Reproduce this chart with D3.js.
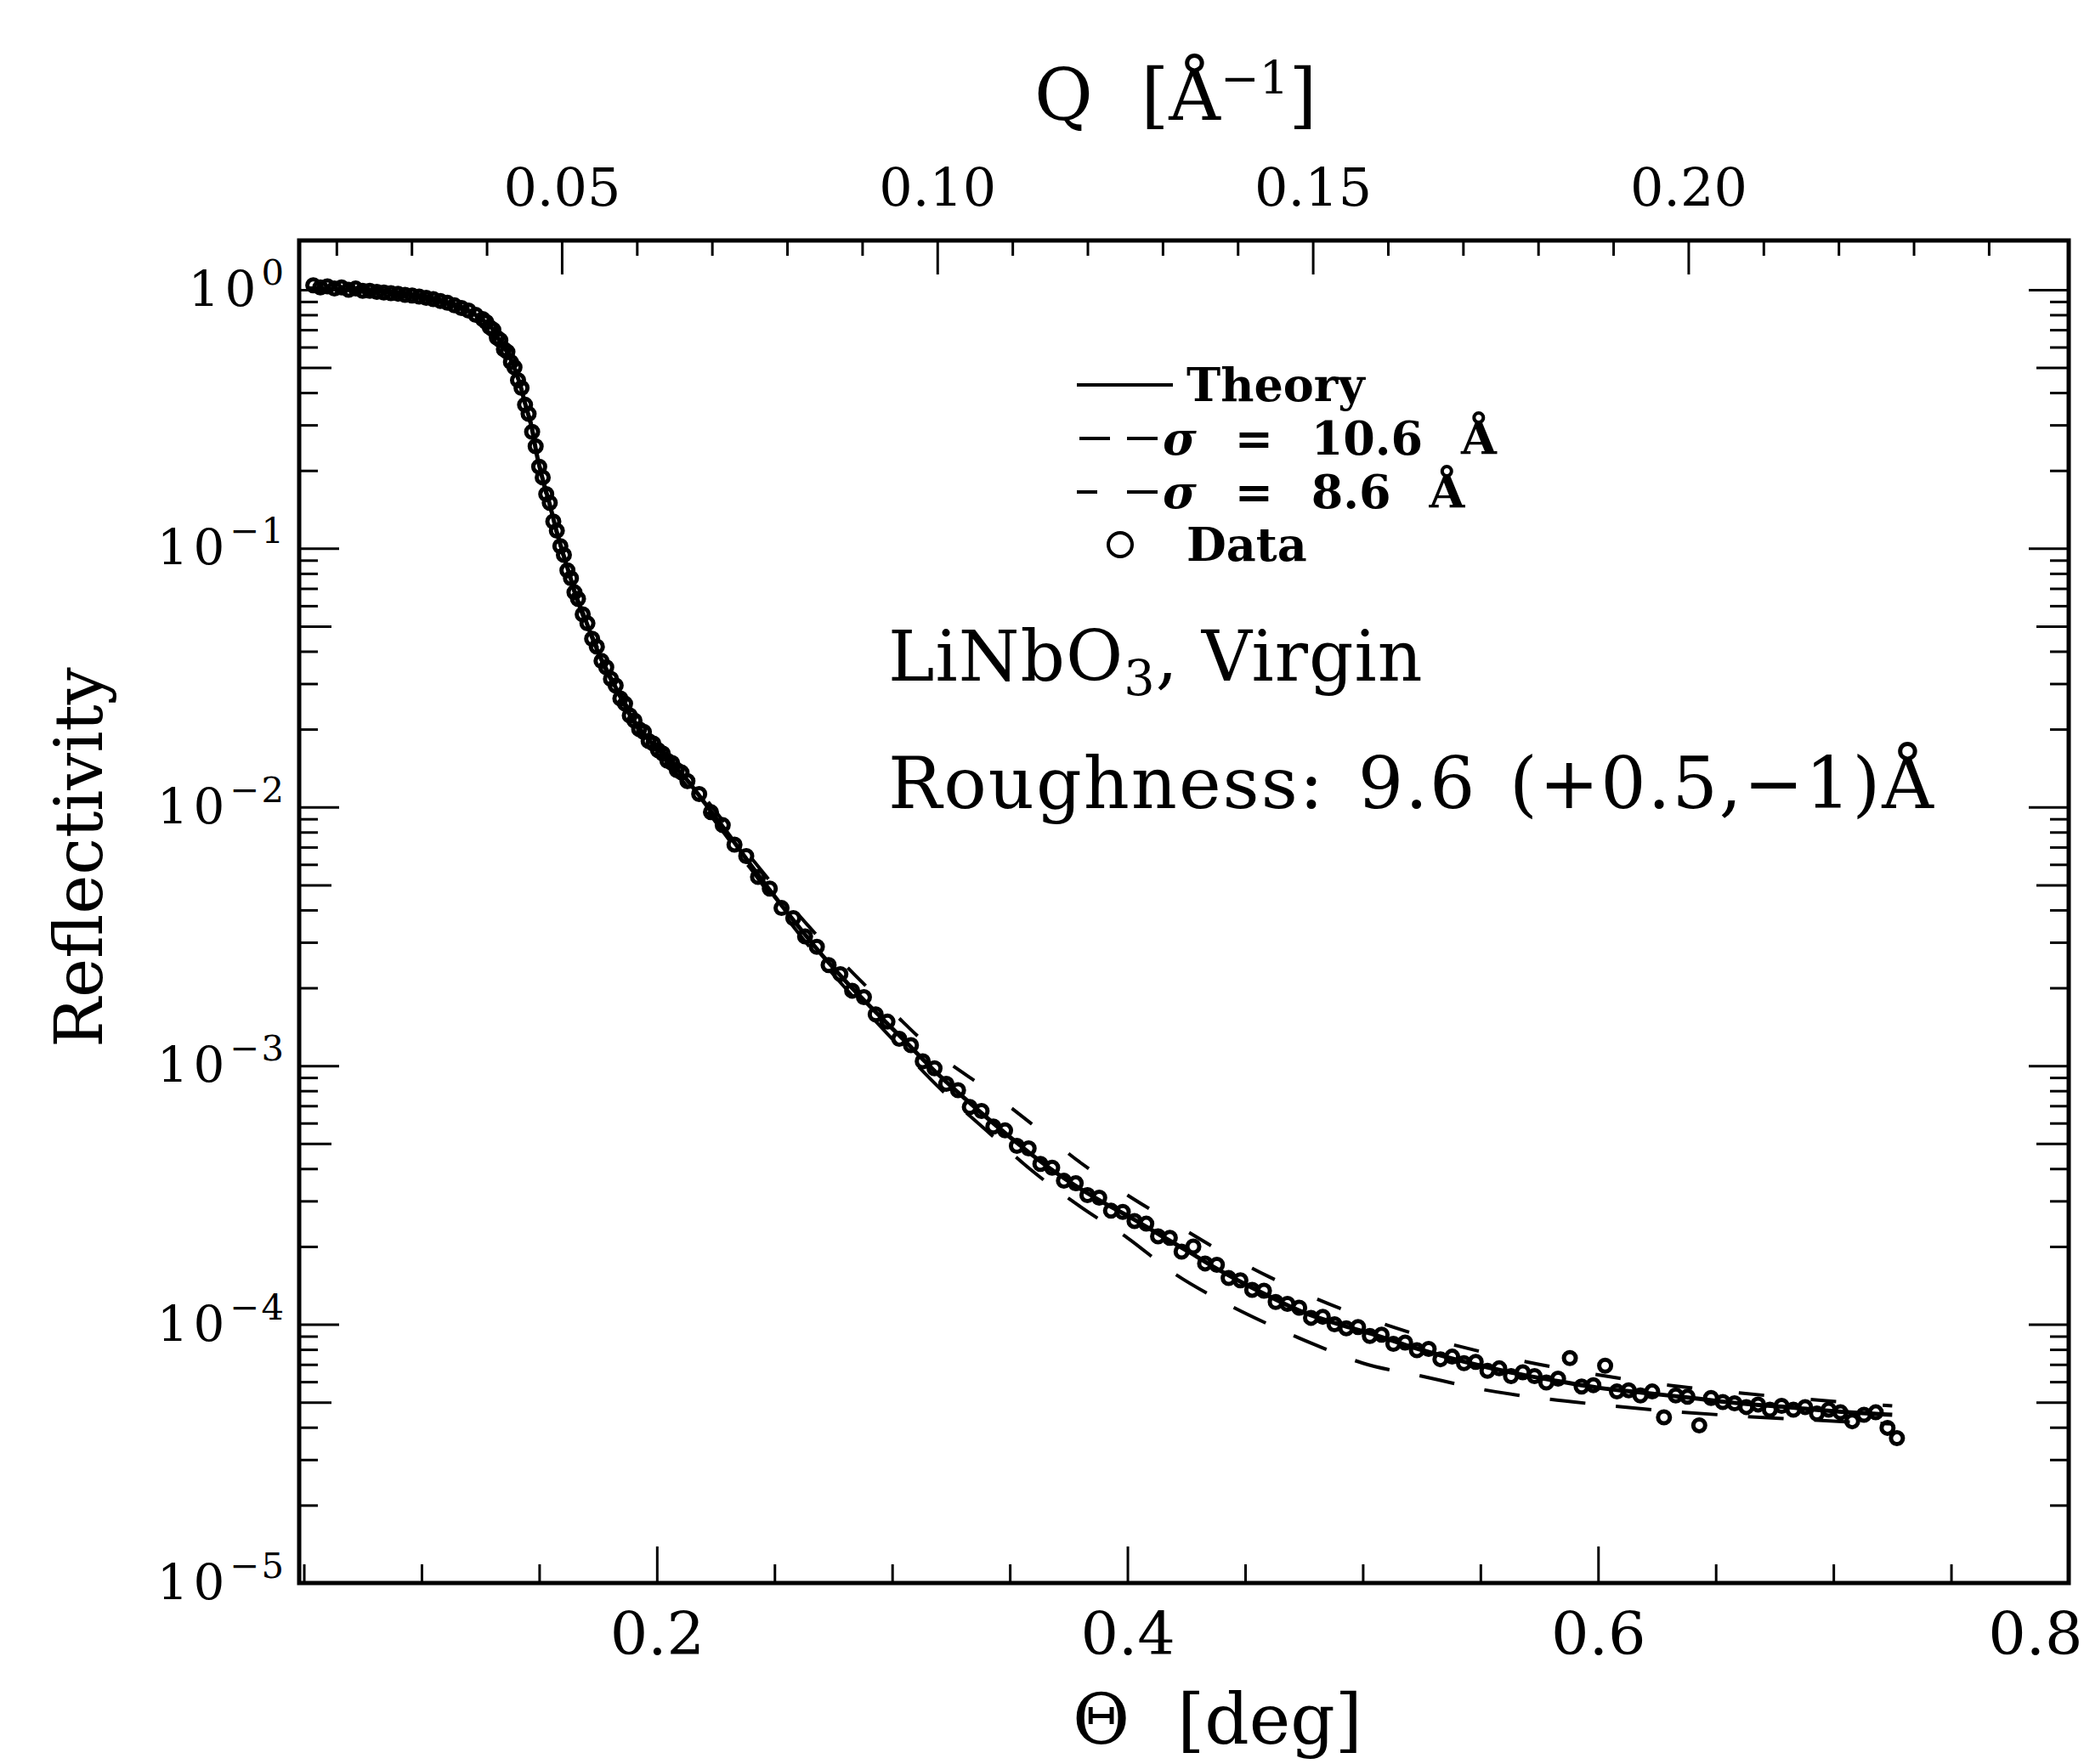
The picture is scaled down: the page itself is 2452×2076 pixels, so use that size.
<!DOCTYPE html>
<html>
<head>
<meta charset="utf-8">
<script src="https://cdn.jsdelivr.net/npm/d3@7"></script>
<style>
    body { margin: 0; background: #fff; }
    svg text { font-family: "DejaVu Serif", serif; fill: #000; }
    .tick line { stroke: #000; stroke-width: 3; }
</style>
</head>
<body>
<div id="chart-area"></div>
<script>

/*****************************************/
/*   DATA  */
/*****************************************/

// measured points, theta in degrees
var thetaData = [
    0.054,0.057,0.060,0.063,0.066,0.069,0.072,0.075,0.078,0.081,0.084,0.087,0.090,0.093,0.096,0.099,0.102,0.105,0.108,0.111,0.114,0.117,0.120,0.123,0.126,
    0.1275,0.1290,0.1305,0.1320,0.1335,0.1350,0.1365,0.1380,0.1395,0.1410,0.1425,0.1440,0.1455,0.1470,0.1485,0.1500,0.1515,0.1530,0.1545,0.1560,
    0.1575,0.1590,0.1605,0.1620,0.1635,0.1650,0.1665,0.1685,0.1705,0.1725,0.1745,0.1765,0.1785,0.1805,0.1825,0.1845,0.1865,0.1885,0.1905,0.1925,
    0.1945,0.1965,0.1985,0.2005,0.2025,0.2045,0.2065,0.2085,0.2105,
    0.213,0.218,0.223,0.228,0.233,0.238,0.243,0.248,0.253,0.258,0.263,0.268,0.273,0.278,0.283,0.288,0.293,0.298,0.303,0.308,
    0.313,0.318,0.323,0.328,0.333,0.338,0.343,0.348,0.353,0.358,0.363,0.368,0.373,0.378,0.383,0.388,0.393,0.398,0.403,0.408,
    0.413,0.418,0.423,0.428,0.433,0.438,0.443,0.448,0.453,0.458,0.463,0.468,0.473,0.478,0.483,0.488,0.493,0.498,0.503,0.508,
    0.513,0.518,0.523,0.528,0.533,0.538,0.543,0.548,0.553,0.558,0.563,0.568,0.573,0.578,0.583,0.588,0.593,0.598,0.603,0.608,
    0.613,0.618,0.623,0.628,0.633,0.638,0.643,0.648,0.653,0.658,0.663,0.668,0.673,0.678,0.683,0.688,0.693,0.698,0.703,0.708,
    0.713,0.718,0.723,0.727
];
var reflData = [
    1.04,1.02,1.03,1.01,1.02,1.00,1.01,0.99,0.99,0.98,0.975,0.97,0.965,0.955,0.95,0.94,0.93,0.92,0.905,0.89,0.87,0.85,0.83,0.80,0.77,
    0.750,0.716,0.700,0.653,0.638,0.589,0.575,0.525,0.501,0.447,0.417,0.359,0.331,0.282,0.248,0.207,0.188,0.162,0.150,0.127,
    0.117,0.102,0.0944,0.0822,0.0767,0.0676,0.0638,0.0556,0.0513,0.0447,0.0417,0.0367,0.0347,0.0313,0.0295,0.0263,0.0251,0.0226,0.0216,0.0200,
    0.0195,0.0180,0.0176,0.0166,0.0161,0.0151,0.0148,0.0139,0.0136,
    0.01259,0.01122,0.00955,0.00851,0.00716,0.00646,0.00537,0.00484,0.00407,0.00372,0.00316,0.00288,0.00245,0.00226,0.00195,0.00184,0.00158,0.00148,0.00127,0.00120,
    0.00104,0.000977,0.000851,0.000804,0.000692,0.000668,0.000582,0.000562,0.000490,0.000479,0.000417,0.000403,0.000359,0.000351,0.000316,0.000309,0.000275,0.000272,0.000251,0.000245,
    0.000219,0.000216,0.000191,0.000200,0.000172,0.000170,0.000151,0.000148,0.000136,0.000135,0.000122,0.000120,0.000116,0.000106,0.000107,0.000100,0.0000966,0.0000977,0.0000902,0.0000912,
    0.0000841,0.0000851,0.0000794,0.0000804,0.0000733,0.0000750,0.0000708,0.0000716,0.0000661,0.0000676,0.0000631,0.0000653,0.0000631,0.0000596,0.0000617,0.0000741,0.0000575,0.0000582,0.0000692,0.0000550,
    0.0000556,0.0000531,0.0000550,0.0000437,0.0000531,0.0000525,0.0000407,0.0000519,0.0000501,0.0000495,0.0000479,0.0000490,0.0000468,0.0000484,0.0000468,0.0000479,0.0000452,0.0000468,0.0000457,0.0000422,
    0.0000447,0.0000457,0.0000398,0.0000363
];

// theory, sigma = 9.6 A
var thetaTheory = [0.052,0.060,0.070,0.080,0.090,0.100,0.110,0.115,0.120,0.125,0.130,0.133,0.1375,0.142,0.144,0.1465,0.1495,0.152,0.1545,0.157,
    0.1595,0.1625,0.1655,0.169,0.1725,0.1765,0.181,0.186,0.191,0.197,0.204,0.212,0.220,0.230,0.240,0.250,0.260,0.270,0.282,0.294,
    0.306,0.318,0.330,0.342,0.354,0.366,0.378,0.390,0.402,0.414,0.426,0.438,0.450,0.462,0.474,0.490,0.505,0.520,0.535,0.550,
    0.565,0.580,0.600,0.620,0.640,0.660,0.680,0.700,0.725];
var reflTheory = [1.01,1.007,1.00,0.989,0.970,0.938,0.895,0.867,0.828,0.776,0.708,0.638,0.550,0.427,0.363,0.302,0.219,0.178,0.148,0.120,
    0.100,0.0813,0.0661,0.0550,0.0452,0.0372,0.0309,0.0251,0.0211,0.0180,0.0155,0.0130,0.01047,0.00794,0.00596,0.00452,0.00347,0.00269,0.00204,0.00158,
    0.00123,0.000955,0.000759,0.000610,0.000495,0.000407,0.000343,0.000295,0.000257,0.000221,0.000191,0.000164,0.000143,0.000126,0.000112,0.000100,0.0000912,0.0000822,0.0000750,0.0000692,
    0.0000646,0.0000610,0.0000569,0.0000543,0.0000519,0.0000495,0.0000479,0.0000462,0.0000447];

// dashed curves share their theta grid
var thetaSigma = [0.052,0.080,0.100,0.120,0.130,0.1375,0.142,0.1465,0.152,0.1595,0.1655,0.1725,0.181,0.191,0.204,0.220,0.240,0.260,0.280,0.300,
    0.320,0.340,0.360,0.380,0.400,0.420,0.440,0.460,0.480,0.500,0.525,0.550,0.575,0.600,0.630,0.660,0.690,0.725];
var reflSigma106 = [1.01,0.989,0.936,0.824,0.703,0.543,0.422,0.299,0.176,0.0989,0.0653,0.0445,0.0302,0.0207,0.0150,0.0100,0.00575,0.00327,0.00200,0.00127,
    0.000822,0.000562,0.000389,0.000285,0.000216,0.000157,0.000123,0.000100,0.0000832,0.0000708,0.0000631,0.0000562,0.0000519,0.0000490,0.0000462,0.0000442,0.0000427,0.0000412];
var reflSigma86 = [1.01,0.989,0.94,0.832,0.713,0.556,0.432,0.305,0.180,0.101,0.0668,0.0459,0.0316,0.0216,0.0160,0.01096,0.00638,0.00385,0.00245,0.00162,
    0.001096,0.000813,0.000589,0.000422,0.000316,0.000245,0.000191,0.000153,0.000126,0.000107,0.0000902,0.0000785,0.0000700,0.0000638,0.0000582,0.0000543,0.0000513,0.0000484];

// tick labels
var xTickLabels = [0.2, 0.4, 0.6, 0.8];
var xMinorTicks = [0.05, 0.1, 0.15, 0.25, 0.3, 0.35, 0.45, 0.5, 0.55, 0.65, 0.7, 0.75];
var qTickLabels = [0.05, 0.10, 0.15, 0.20];
var qMinorTicks = [0.02, 0.03, 0.04, 0.06, 0.07, 0.08, 0.09, 0.11, 0.12, 0.13, 0.14, 0.16, 0.17, 0.18, 0.19, 0.21, 0.22, 0.23, 0.24];

var lambda = 0.70; // wavelength in Angstrom, used for the Q axis


// CHART AREA

var margin = {top: 283, right: 18, bottom: 213, left: 352},
    width = 2452 - margin.left - margin.right,
    height = 2076 - margin.top - margin.bottom;

var svgRoot = d3.select("#chart-area").append("svg")
    .attr("width", 2452)
    .attr("height", 2076);

var svg = svgRoot.append("g")
    .attr("transform", "translate(" + margin.left + "," + margin.top + ")");


// SCALES

var x = d3.scaleLinear()
    .domain([0.048, 0.8])
    .range([0, width]);

var y = d3.scaleLog()
    .domain([1e-5, 1.55])
    .range([height, 0]);

function toQ(theta) {
    return 4 * Math.PI * Math.sin(theta * Math.PI / 180) / lambda;
}

var q = d3.scaleLinear()
    .domain([toQ(0.048), toQ(0.8)])
    .range([0, width]);

function lead(d) {
    var e = Math.floor(Math.log10(d) + 1e-9);
    return Math.round(d / Math.pow(10, e));
}
var yAll = y.ticks();
var yMajor = yAll.filter(function(d) { return lead(d) === 1; });
var yFive = yAll.filter(function(d) { return lead(d) === 5; });
var yMinor = yAll.filter(function(d) { return lead(d) !== 1 && lead(d) !== 5; });


// AXIS

function noLabel() { return ""; }

function tickGroup(axis, transform) {
    var g = svg.append("g")
        .attr("transform", transform || null)
        .call(axis);
    g.select(".domain").remove();
    return g;
}

// bottom
tickGroup(d3.axisBottom(x).tickValues(xMinorTicks).tickSize(-22).tickFormat(noLabel), "translate(0," + height + ")");
var xAxisGroup = tickGroup(d3.axisBottom(x).tickValues(xTickLabels).tickSize(-43).tickPadding(34)
    .tickFormat(d3.format(".1f")), "translate(0," + height + ")");
xAxisGroup.attr("font-size", 70);
// last label sits on the window edge, as in the figure
xAxisGroup.selectAll(".tick text")
    .filter(function(d) { return d === 0.8; })
    .attr("text-anchor", "end")
    .attr("x", 16);

// top (Q)
tickGroup(d3.axisTop(q).tickValues(qMinorTicks).tickSize(-18).tickFormat(noLabel));
var qAxisGroup = tickGroup(d3.axisTop(q).tickValues(qTickLabels).tickSize(-40).tickPadding(41)
    .tickFormat(d3.format(".2f")));
qAxisGroup.attr("font-size", 62);

// left and right
[[yMinor, 22], [yFive, 38], [yMajor, 47]].forEach(function(t) {
    tickGroup(d3.axisLeft(y).tickValues(t[0]).tickSize(-t[1]).tickFormat(noLabel));
    tickGroup(d3.axisRight(y).tickValues(t[0]).tickSize(-t[1]).tickFormat(noLabel), "translate(" + width + ",0)");
});

var yAxisGroup = tickGroup(d3.axisLeft(y).tickValues(yMajor).tickSize(0).tickPadding(16).tickFormat(noLabel));
yAxisGroup.attr("font-size", 58);
yAxisGroup.selectAll(".tick text").each(function(d) {
    var e = Math.round(Math.log10(d));
    var t = d3.select(this).text(null).attr("letter-spacing", 6);
    t.append("tspan").text("10");
    t.append("tspan")
        .attr("dy", "-0.6em")
        .attr("font-size", "0.72em")
        .attr("letter-spacing", 2)
        .text(e === 0 ? "0" : "\u2212" + (-e));
});

// frame
svg.append("rect")
    .attr("width", width)
    .attr("height", height)
    .attr("fill", "none")
    .attr("stroke", "#000")
    .attr("stroke-width", 5);


// ---- DRAW CURVES ----

function pairs(xs, ys) {
    return xs.map(function(d, i) { return [d, ys[i]]; });
}

var line = d3.line()
    .x(function(d) { return x(d[0]); })
    .y(function(d) { return y(d[1]); })
    .curve(d3.curveMonotoneX);

svg.append("path")
    .datum(pairs(thetaSigma, reflSigma106))
    .attr("d", line)
    .attr("fill", "none")
    .attr("stroke", "#000")
    .attr("stroke-width", 4)
    .attr("stroke-dasharray", "42,36");

svg.append("path")
    .datum(pairs(thetaSigma, reflSigma86))
    .attr("d", line)
    .attr("fill", "none")
    .attr("stroke", "#000")
    .attr("stroke-width", 4)
    .attr("stroke-dasharray", "30,55");

svg.append("path")
    .datum(pairs(thetaTheory, reflTheory))
    .attr("d", line)
    .attr("fill", "none")
    .attr("stroke", "#000")
    .attr("stroke-width", 5);

svg.selectAll(".dot")
    .data(pairs(thetaData, reflData))
    .enter()
    .append("circle")
    .attr("class", "dot")
    .attr("cx", function(d) { return x(d[0]); })
    .attr("cy", function(d) { return y(d[1]); })
    .attr("r", 7)
    .attr("fill", "none")
    .attr("stroke", "#000")
    .attr("stroke-width", 5);


// ---- AXIS TITLES ----

svgRoot.append("text")
    .attr("transform", "translate(120,1009) rotate(-90)")
    .attr("text-anchor", "middle")
    .attr("font-size", 78)
    .text("Reflectivity");

svgRoot.append("text")
    .attr("x", 1262)
    .attr("y", 2052)
    .attr("font-size", 82)
    .attr("word-spacing", 30)
    .text("\u0398 [deg]");

var qTitle = svgRoot.append("text")
    .attr("x", 1217)
    .attr("y", 141)
    .attr("font-size", 84)
    .attr("word-spacing", 30);
qTitle.append("tspan").text("Q [\u00C5");
qTitle.append("tspan").attr("dy", "-0.55em").attr("font-size", "0.65em").text("\u22121");
qTitle.append("tspan").attr("dy", "0.36em").text("]");


// ---- LEGEND ----

var legend = svgRoot.append("g").attr("font-size", 54).attr("font-weight", "bold");
var rowY = [453, 516, 579, 641];

legend.append("line")
    .attr("x1", 1267).attr("x2", 1380).attr("y1", rowY[0]).attr("y2", rowY[0])
    .attr("stroke", "#000").attr("stroke-width", 4);
legend.append("line")
    .attr("x1", 1270).attr("x2", 1362).attr("y1", rowY[1]).attr("y2", rowY[1])
    .attr("stroke", "#000").attr("stroke-width", 4).attr("stroke-dasharray", "36,20");
legend.append("line")
    .attr("x1", 1267).attr("x2", 1362).attr("y1", rowY[2]).attr("y2", rowY[2])
    .attr("stroke", "#000").attr("stroke-width", 4).attr("stroke-dasharray", "24,35,36");
legend.append("circle")
    .attr("cx", 1318).attr("cy", rowY[3]).attr("r", 14)
    .attr("fill", "none").attr("stroke", "#000").attr("stroke-width", 4);

legend.append("text").attr("x", 1396).attr("y", rowY[0] + 19).text("Theory");

var s1 = legend.append("text").attr("x", 1368).attr("y", rowY[1] + 19).attr("word-spacing", 26);
s1.append("tspan").attr("font-style", "italic").text("\u03C3");
s1.append("tspan").text(" = 10.6 \u00C5");

var s2 = legend.append("text").attr("x", 1368).attr("y", rowY[2] + 19).attr("word-spacing", 26);
s2.append("tspan").attr("font-style", "italic").text("\u03C3");
s2.append("tspan").text(" = 8.6 \u00C5");

legend.append("text").attr("x", 1396).attr("y", rowY[3] + 19).text("Data");


// ---- ANNOTATIONS ----

var sample = svgRoot.append("text")
    .attr("x", 1045)
    .attr("y", 801)
    .attr("font-size", 82)
    .attr("letter-spacing", 1);
sample.append("tspan").text("LiNbO");
sample.append("tspan").attr("dy", "0.3em").attr("font-size", "0.7em").text("3");
sample.append("tspan").attr("dy", "-0.21em").text(",  Virgin");

svgRoot.append("text")
    .attr("x", 1045)
    .attr("y", 951)
    .attr("font-size", 84)
    .attr("letter-spacing", 2)
    .attr("word-spacing", 10)
    .text("Roughness: 9.6 (+0.5,\u22121)\u00C5");

</script>
</body>
</html>
